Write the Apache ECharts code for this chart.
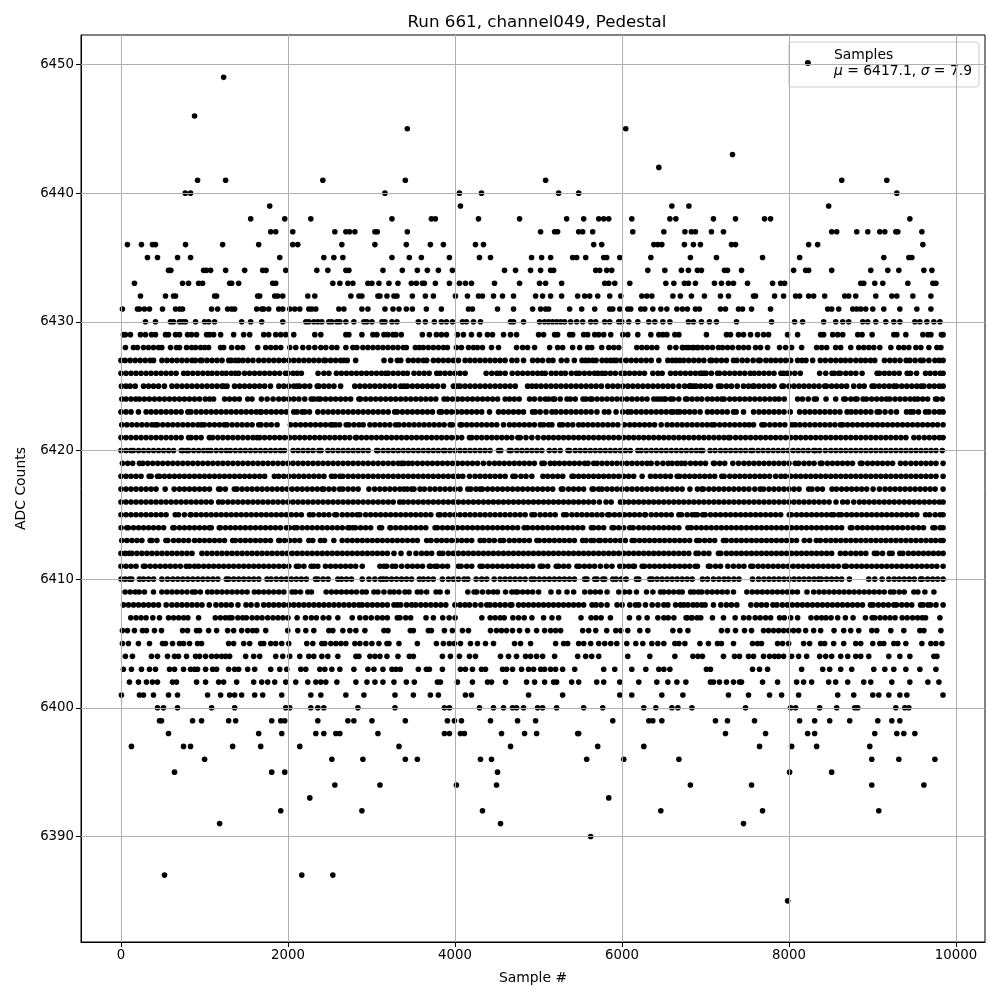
<!DOCTYPE html>
<html><head><meta charset="utf-8">
<style>html,body{margin:0;padding:0;background:#fff}#c{width:1000px;height:1000px}</style>
<script src="https://cdn.jsdelivr.net/npm/echarts@6/dist/echarts.min.js"></script>
</head><body><div id="c"></div>
<script>
const titleText = "Run 661, channel049, Pedestal";
const xName = "Sample #";
const yName = "ADC Counts";
const seriesName = "Samples";
const xTicks = [0,2000,4000,6000,8000,10000];
const yTicks = [6390,6400,6410,6420,6430,6440,6450];

const r6449=[1229];
const r6446=[881];
const r6445=[3429,6045];
const r6443=[7323];
const r6442=[6441];
const r6441=[917,1253,2417,3405,5085,8631,9171];
const r6440=[769,833,3161,4053,4317,5241,5481,9291];
const r6439=[1781,4065,6597,6801,8475];
const r6438=[1553,1961,2273,3245,3717,3765,4281,4773,5337,5541,5721,5781,5841,6117,6573,6645,7095,7359,7707,7779,9447];
const r6437=[1793,1853,2057,2561,2693,2737,2801,3041,3069,3429,5025,5193,5229,5481,5529,5649,6129,6501,6753,6831,6879,7071,7215,8511,8571,8811,8943,9087,9147,9279,9303,9591];
const r6436=[77,245,377,413,773,1217,1649,2057,2117,2645,3041,3417,3705,3861,4245,4341,5661,5757,6381,6429,6477,6747,6855,6939,7311,7359,8235,8343,9603];
const r6435=[317,437,677,833,1901,2429,2549,2657,3245,3453,3597,3933,4293,4425,4917,5037,5145,5409,5457,5565,5781,5817,5973,6345,6819,7131,7683,8127,9135,9435,9471];
const r6434=[569,597,989,1021,1073,1253,1481,1697,1737,1973,2345,2477,2693,2729,3137,3369,3549,3669,3801,3969,4593,4725,4905,5025,5145,5181,5685,5733,5817,5877,6309,6513,6711,6795,6903,6951,7227,7263,7431,8055,8199,8235,8511,8979,9183,9315,9615,9711];
const r6433=[161,737,809,929,977,1301,1325,1409,1817,1853,2537,2621,2717,2777,2957,3005,3089,3209,3317,3477,3537,3609,3633,3765,3933,4053,4125,4197,4473,4773,5013,5085,5277,5793,5841,5913,6093,6525,6621,6747,6795,6879,7107,7191,7275,7335,7503,7803,7899,7947,8859,8895,9027,9123,9423,9723,9759];
const r6432=[233,533,629,653,1121,1145,1637,1661,1841,1877,1937,2237,2321,2753,2849,2885,3077,3101,3185,3269,3305,3489,3645,3741,4005,4149,4281,4329,4461,4569,4701,4965,5049,5145,5277,5469,5553,5613,5709,5853,5985,6237,6297,6357,6609,6699,6831,6987,7179,7275,7575,7599,7827,7935,8079,8127,8235,8295,8427,8667,8715,8799,9039,9231,9291,9483,9699];
const r6431=[17,197,221,281,341,497,653,701,737,1085,1157,1277,1325,1361,1625,1685,1709,1769,1889,1937,2021,2081,2141,2249,2285,2333,2609,2669,2885,2957,3161,3257,3329,3417,3489,3657,3837,4161,4209,4509,4701,4929,5025,5085,5121,5373,5517,5673,5853,5889,5973,6069,6105,6225,6273,6369,6465,6537,6657,6723,6783,6879,6927,7179,7239,7395,7443,7551,7779,8463,8511,8595,8763,8811,8859,8919,9003,9135,9327,9531,9699];
const r6430=[293,413,593,629,701,737,773,893,1001,1049,1121,1445,1553,1685,1937,2213,2249,2309,2357,2405,2489,2525,2585,2621,2693,2789,2909,2945,3005,3125,3161,3245,3305,3561,3645,3753,3837,3897,3969,4089,4137,4221,4305,4665,4701,4821,5013,5073,5121,5169,5217,5265,5313,5385,5457,5529,5625,5685,5793,5853,5961,5997,6081,6189,6321,6393,6489,6573,6795,6855,6951,7047,7131,7371,7791,8067,8163,8415,8559,8643,8715,8883,8943,9039,9159,9255,9327,9507,9567,9651,9735,9807];
const r6429=[29,53,113,233,293,365,413,533,569,653,701,797,845,905,1025,1061,1109,1193,1349,1469,1541,1709,1769,1853,1913,1973,2069,2321,2393,2693,2729,2885,3017,3065,3149,3197,3257,3293,3357,3609,3693,3777,3837,3897,4029,4101,4197,4293,4389,4449,4581,4665,4737,5001,5061,5193,5229,5373,5409,5541,5589,5673,5721,5781,5865,6009,6069,6189,6345,6441,6489,6537,6633,6681,7011,7251,7299,7395,7455,7539,7623,7695,7755,7983,8103,8379,8415,8523,8583,8643,8823,8875,8995,9255,9291,9399,9603,9663,9699,9825,9845];
const r6428=[53,149,197,269,329,389,449,489,593,665,701,785,845,893,953,1001,1049,1193,1229,1325,1397,1457,1637,1733,1793,1853,1913,2021,2093,2177,2249,2321,2393,2453,2525,2585,2693,2777,2825,2897,2957,3017,3077,3137,3197,3257,3317,3381,3417,3525,3573,3621,3681,3741,3801,3861,3909,4017,4077,4161,4221,4269,4329,4437,4521,4737,4809,4869,4953,5133,5229,5289,5409,5493,5589,5637,5757,5841,5901,5961,6177,6237,6297,6357,6417,6573,6645,6729,6801,6861,6909,6723,6771,6843,6903,6963,7023,7083,7155,7203,7263,7323,7395,7455,7515,7599,7659,7743,7887,7959,8031,8151,8331,8391,8451,8559,8619,8739,8835,8895,8955,9015,9087,9219,9315,9375,9435,9519,9579,9675,9771,9819];
const r6427=[0,50,110,170,230,290,350,390,490,550,610,670,730,790,850,890,950,970,1030,1090,1150,1210,1290,1320,1370,1410,1460,1520,1580,1650,1710,1770,1830,1890,1950,2010,2070,2130,2190,2250,2310,2370,2430,2450,2510,2570,2630,2670,2710,2810,3150,3230,3310,3350,3441,3500,3560,3620,3661,3741,3800,3860,3920,3980,4041,4121,4180,4240,4300,4360,4420,4480,4540,4600,4681,4741,4821,4929,4990,5049,5121,5173,5273,5340,5429,5521,5561,5601,5650,5689,5761,5813,5861,5901,5933,5990,6050,6110,6170,6230,6290,6350,6441,6549,6601,6645,6693,6741,6800,6860,6920,6980,7055,7075,7130,7190,7250,7335,7375,7440,7500,7570,7635,7655,7723,7783,7840,7900,7960,8020,8103,8155,8203,8283,8375,8435,8500,8560,8620,8675,8735,8800,8860,8915,8975,9027,9143,9207,9267,9330,9403,9447,9510,9575,9607,9675,9747,9800,9845];
const r6426=[0,60,120,180,240,300,360,420,480,540,600,660,750,800,860,920,980,1040,1090,1150,1210,1260,1320,1370,1410,1480,1540,1600,1660,1720,1780,1840,1900,1970,2000,2060,2110,2160,2360,2430,2490,2580,2640,2700,2760,2820,2880,2940,3000,3060,3120,3170,3200,3260,3320,3380,3429,3509,3570,3630,3690,3781,3821,3880,3940,4000,4060,4121,4373,4440,4501,4541,4601,4685,4750,4810,4870,4930,4989,5041,5081,5153,5210,5270,5321,5393,5453,5489,5550,5610,5670,5713,5761,5801,5861,5920,5989,6033,6090,6150,6210,6269,6369,6430,6481,6581,6640,6700,6760,6820,6880,6935,6955,6983,7007,7070,7143,7167,7230,7290,7350,7410,7470,7535,7583,7640,7700,7760,7820,7903,7935,7975,8007,8070,8135,8367,8440,8515,8543,8595,8615,8680,8740,8800,8875,9055,9083,9143,9200,9260,9320,9415,9455,9527,9635,9690,9750,9810,9845];
const r6425=[5,60,110,170,270,330,390,450,520,610,670,730,790,850,910,970,1030,1090,1150,1210,1230,1270,1360,1420,1480,1540,1600,1660,1720,1790,1890,1950,2010,2070,2110,2140,2200,2260,2350,2370,2430,2490,2550,2630,2800,2860,2920,2980,3040,3100,3160,3220,3280,3350,3389,3429,3490,3550,3610,3670,3730,3790,3861,3981,4029,4061,4120,4180,4240,4300,4360,4420,4480,4540,4600,4660,4721,4869,4921,4973,5030,5090,5150,5210,5270,5330,5390,5450,5510,5570,5630,5690,5753,5829,5890,5950,6010,6070,6130,6190,6250,6310,6370,6430,6490,6550,6610,6681,6750,6813,6861,6941,6807,6827,6890,7000,7060,7155,7187,7250,7310,7380,7455,7515,7567,7583,7640,7700,7760,7820,7915,7935,8000,8060,8120,8180,8240,8300,8360,8427,8447,8510,8570,8630,8690,8775,8843,8900,8995,9023,9080,9140,9200,9255,9287,9350,9410,9470,9530,9583,9615,9680,9740,9800,9845];
const r6424=[10,60,120,177,221,280,340,400,460,520,580,640,700,760,820,880,940,1009,1061,1109,1241,1300,1360,1417,1517,1569,1681,1750,1821,1889,1950,2009,2069,2130,2200,2277,2309,2357,2389,2450,2510,2570,2630,2690,2750,2849,2869,2930,2990,3050,3110,3170,3230,3290,3350,3410,3470,3530,3590,3650,3710,3770,3869,3909,3970,4033,4089,4150,4210,4270,4330,4390,4450,4510,4601,4653,4710,4769,4893,4950,5020,5081,5121,5173,5193,5260,5341,5381,5440,5533,5569,5621,5641,5700,5760,5820,5880,5940,6000,6060,6120,6180,6240,6300,6381,6421,6460,6501,6521,6581,6613,6680,6761,6781,6840,6900,6955,7023,7080,7140,7195,7223,7290,7350,7410,7470,7530,7590,7650,7710,7770,7830,7880,7943,8103,8160,8230,8303,8327,8443,8559,8655,8675,8740,8795,8815,8887,8927,8990,9050,9110,9167,9207,9270,9330,9390,9450,9503,9543,9600,9660,9755,9775,9835];
const r6423=[0,60,120,209,301,360,420,480,540,600,660,720,801,837,900,960,1020,1080,1140,1200,1260,1320,1380,1440,1500,1560,1620,1669,1681,1740,1800,1860,1920,1980,2069,2109,2169,2201,2257,2357,2420,2480,2540,2600,2660,2720,2780,2840,2900,2960,3020,3080,3140,3200,3277,3309,3370,3430,3490,3550,3610,3670,3730,3813,3841,3900,3960,4020,4080,4140,4200,4260,4320,4413,4521,4580,4640,4700,4760,4820,4929,4961,5020,5090,5161,5209,5270,5330,5390,5450,5510,5570,5630,5700,5789,5841,5929,6009,6069,6109,6170,6230,6290,6350,6410,6470,6530,6589,6613,6661,6693,6750,6810,6870,6935,7023,7080,7140,7200,7260,7335,7367,7455,7575,7640,7700,7760,7820,7880,7940,8015,8127,8190,8250,8310,8370,8430,8490,8550,8610,8695,8743,8800,8860,8920,8980,9055,9083,9150,9220,9287,9407,9455,9487,9550,9635,9675,9740,9800,9845];
const r6422=[9,70,130,190,250,310,370,409,437,500,560,620,680,740,800,860,920,961,997,1060,1120,1180,1237,1269,1330,1390,1450,1510,1570,1649,1677,1740,1800,1869,2029,2090,2150,2210,2270,2330,2390,2450,2509,2537,2569,2617,2697,2729,2790,2850,2901,2981,3040,3100,3160,3220,3289,3329,3390,3450,3510,3570,3630,3690,3750,3810,3870,3941,3969,4061,4081,4140,4200,4260,4320,4380,4440,4500,4581,4653,4710,4770,4830,4890,4950,5021,5061,5121,5161,5253,5289,5350,5410,5481,5533,5590,5650,5710,5770,5830,5890,5950,6029,6093,6150,6210,6270,6330,6390,6469,6541,6600,6660,6720,6780,6840,6900,6960,7020,7075,7107,7170,7230,7290,7350,7410,7470,7523,7575,7675,7707,7770,7830,7890,7950,8035,8075,8130,8190,8250,8310,8370,8430,8490,8550,8615,8643,8700,8760,8820,8880,8940,9000,9060,9120,9180,9240,9300,9360,9420,9480,9540,9600,9660,9720,9780,9845];
const r6421=[0,60,120,180,240,300,360,420,480,540,600,660,720,809,841,900,960,1057,1097,1160,1220,1280,1340,1400,1460,1520,1580,1629,1661,1720,1780,1840,1900,1960,2020,2080,2140,2200,2260,2320,2380,2440,2500,2560,2620,2680,2740,2809,2821,2880,2940,3000,3060,3120,3180,3240,3300,3360,3420,3480,3540,3600,3660,3720,3780,3840,3900,3960,4020,4080,4173,4201,4260,4320,4380,4440,4500,4560,4620,4680,4753,4781,4850,4920,4993,5061,5120,5180,5240,5300,5360,5420,5480,5540,5600,5660,5720,5780,5840,5900,5960,6020,6080,6140,6200,6260,6320,6380,6440,6500,6560,6620,6680,6740,6800,6860,6920,6980,7040,7100,7160,7220,7275,7295,7360,7420,7480,7540,7600,7660,7720,7780,7840,7900,7960,8020,8080,8140,8200,8260,8320,8380,8440,8500,8560,8620,8680,8740,8800,8860,8920,8980,9040,9100,9160,9220,9280,9340,9400,9495,9555,9620,9680,9740,9800,9845];
const r6420=[0,60,117,149,210,270,330,390,450,510,570,630,721,741,789,809,870,930,990,1041,1077,1140,1200,1261,1309,1370,1430,1490,1550,1610,1670,1730,1790,1850,1910,1957,2061,2120,2180,2240,2300,2369,2397,2477,2537,2600,2660,2720,2780,2840,2900,2960,3061,3077,3140,3200,3260,3320,3380,3440,3500,3560,3620,3680,3740,3800,3861,3881,3940,4000,4060,4120,4180,4240,4300,4360,4420,4521,4549,4649,4673,4740,4800,4860,4920,4980,5040,5129,5193,5260,5353,5373,5440,5500,5560,5620,5680,5740,5800,5860,5920,5980,6040,6100,6189,6229,6290,6350,6410,6470,6530,6590,6650,6710,6770,6830,6890,6943,6967,7055,7115,7180,7240,7300,7360,7420,7480,7543,7567,7630,7690,7750,7810,7870,7930,7990,8050,8110,8170,8230,8295,8315,8367,8435,8500,8560,8620,8680,8740,8800,8860,8920,8980,9040,9100,9160,9220,9280,9340,9400,9460,9520,9580,9640,9700,9760,9835];
const r6419=[17,80,140,221,261,320,380,440,500,560,620,680,740,800,860,920,980,1040,1100,1160,1220,1280,1340,1400,1460,1520,1580,1640,1700,1760,1820,1880,1940,2000,2060,2120,2180,2240,2300,2360,2420,2480,2540,2600,2660,2720,2780,2840,2900,2960,3020,3080,3140,3200,3260,3320,3361,3389,3441,3489,3550,3610,3670,3730,3790,3850,3910,3970,4030,4090,4150,4210,4270,4340,4409,4473,4530,4590,4650,4710,4770,4830,4890,4950,5041,5069,5141,5193,5250,5310,5370,5430,5490,5553,5593,5661,5701,5760,5820,5880,5940,6000,6060,6120,6180,6240,6300,6349,6421,6490,6553,6601,6660,6709,6755,6820,6880,6940,7000,7095,7107,7170,7230,7327,7395,7460,7520,7580,7640,7700,7760,7820,7880,7940,8000,8075,8115,8180,8240,8300,8375,8395,8460,8520,8580,8640,8700,8760,8855,8875,8940,9000,9060,9120,9180,9240,9335,9395,9460,9520,9580,9640,9700,9760,9845];
const r6418=[0,60,120,180,240,337,361,437,461,520,580,640,700,760,820,880,940,1000,1060,1120,1180,1240,1300,1360,1420,1480,1540,1600,1660,1720,1837,1889,1950,2010,2070,2130,2190,2250,2310,2370,2430,2521,2561,2621,2657,2720,2780,2840,2900,2960,3020,3080,3140,3200,3260,3320,3380,3440,3500,3560,3620,3680,3740,3800,3860,3920,3980,4040,4093,4173,4240,4300,4360,4420,4480,4540,4600,4693,4721,4790,4850,4920,5053,5109,5170,5230,5290,5401,5421,5480,5540,5600,5660,5720,5780,5840,5900,5960,6020,6080,6140,6241,6341,6400,6460,6520,6580,6661,6689,6750,6810,6870,6930,6990,7050,7110,7195,7223,7290,7350,7410,7470,7530,7590,7650,7707,7767,7840,7903,7955,8020,8080,8140,8200,8260,8320,8380,8440,8500,8560,8620,8680,8740,8800,8860,8920,8980,9040,9100,9160,9220,9280,9340,9400,9460,9520,9580,9640,9700,9760,9845];
const r6417=[0,60,120,180,240,300,360,420,529,637,700,760,820,880,940,1000,1060,1169,1189,1250,1357,1389,1450,1510,1570,1630,1690,1750,1810,1870,1930,1990,2050,2110,2170,2230,2290,2350,2409,2429,2490,2550,2617,2657,2720,2780,2840,2969,3037,3100,3160,3220,3280,3340,3389,3429,3481,3509,3581,3633,3700,3760,3820,3880,3940,4000,4060,4153,4189,4250,4301,4329,4390,4450,4510,4570,4630,4690,4750,4810,4870,4930,4990,5050,5110,5170,5273,5293,5360,5420,5480,5540,5641,5661,5721,5761,5820,5880,5940,6000,6060,6120,6180,6240,6300,6360,6420,6480,6540,6600,6660,6720,6813,6903,6955,6975,7040,7100,7160,7220,7280,7340,7400,7460,7520,7590,7655,7695,7760,7820,7880,7940,8000,8060,8120,8235,8275,8340,8400,8515,8567,8630,8690,8750,8810,8870,8930,9007,9083,9150,9210,9270,9330,9390,9450,9510,9570,9630,9690,9750,9845];
const r6416=[0,60,120,180,240,300,360,420,480,540,600,660,720,780,840,900,960,1020,1080,1169,1217,1280,1340,1400,1460,1520,1580,1640,1700,1760,1820,1880,1940,2000,2060,2120,2180,2240,2300,2360,2420,2480,2540,2600,2660,2720,2780,2840,2900,2960,3020,3080,3140,3200,3260,3337,3381,3440,3500,3560,3620,3680,3740,3800,3860,3920,3980,4040,4100,4160,4220,4280,4340,4400,4460,4520,4580,4640,4700,4760,4820,4880,4940,5000,5060,5120,5180,5240,5300,5360,5420,5480,5540,5600,5660,5729,5809,5870,5981,6021,6080,6140,6200,6260,6320,6380,6440,6500,6560,6620,6680,6740,6800,6860,6920,6980,7040,7100,7160,7220,7280,7340,7400,7460,7520,7580,7640,7700,7760,7820,7880,7940,8000,8060,8120,8180,8240,8300,8360,8420,8480,8563,8643,8700,8775,8843,8900,8960,9020,9080,9140,9200,9260,9320,9380,9440,9500,9560,9620,9680,9740,9800,9845];
const r6415=[0,60,120,180,240,300,360,420,480,540,649,689,760,829,841,900,960,1020,1080,1140,1200,1260,1320,1380,1440,1500,1560,1620,1680,1740,1800,1860,1920,1980,2040,2100,2160,2257,2301,2370,2430,2490,2561,2581,2650,2710,2770,2829,2861,2930,2990,3050,3110,3170,3230,3290,3350,3410,3470,3530,3590,3650,3710,3801,3821,3880,3940,4000,4060,4120,4180,4240,4300,4360,4420,4480,4540,4600,4660,4720,4780,4840,4921,4953,5020,5080,5140,5200,5301,5333,5400,5460,5520,5580,5640,5700,5760,5829,5849,5910,5970,6030,6090,6150,6210,6273,6281,6350,6410,6470,6530,6590,6681,6713,6780,6840,6875,6903,6967,6995,7060,7120,7180,7240,7300,7360,7420,7480,7540,7600,7660,7720,7780,7840,7900,8003,8027,8090,8150,8210,8270,8330,8390,8450,8507,8535,8595,8627,8690,8750,8810,8870,8930,8990,9050,9110,9170,9230,9290,9350,9410,9470,9530,9635,9683,9750,9810,9845];
const r6414=[1,69,89,150,210,270,330,390,450,510,621,637,700,760,820,880,940,1000,1057,1081,1177,1189,1250,1310,1370,1430,1490,1550,1610,1670,1730,1790,1850,1910,1981,2017,2077,2109,2170,2230,2290,2350,2410,2470,2530,2590,2650,2717,2737,2777,2809,2870,2930,2990,3097,3121,3221,3229,3290,3350,3410,3470,3530,3590,3650,3761,3789,3850,3910,3970,4030,4090,4150,4210,4270,4330,4390,4450,4510,4570,4630,4690,4750,4829,4869,4930,4990,5050,5110,5170,5230,5290,5350,5410,5470,5530,5633,5661,5720,5780,5881,5901,5960,6020,6093,6133,6200,6260,6320,6380,6440,6500,6560,6620,6680,6789,6829,6890,6950,7010,7070,7130,7190,7250,7310,7370,7430,7490,7550,7610,7670,7730,7790,7850,7910,7970,8030,8090,8150,8210,8270,8330,8390,8450,8510,8570,8630,8735,8755,8820,8880,8940,9000,9060,9120,9180,9240,9300,9360,9423,9487,9550,9610,9723,9747,9810,9845];
const r6413=[9,70,130,190,250,349,369,430,537,561,630,690,750,809,881,940,1000,1060,1120,1180,1240,1337,1369,1430,1490,1550,1610,1670,1730,1790,1889,1901,1960,2020,2080,2140,2249,2297,2389,2437,2549,2649,2710,2770,2830,2890,2950,3010,3070,3130,3190,3250,3310,3370,3430,3493,3549,3661,3713,3780,3840,3900,3960,4020,4080,4140,4200,4301,4349,4410,4470,4541,4581,4650,4710,4770,4830,4890,4981,5009,5070,5130,5190,5250,5310,5370,5430,5529,5569,5629,5661,5721,5741,5800,5860,5920,5980,6040,6121,6149,6210,6270,6330,6390,6450,6510,6570,6630,6690,6750,6810,6895,6927,6990,7050,7110,7215,7247,7310,7370,7430,7490,7550,7610,7670,7730,7790,7850,7910,7970,8030,8090,8183,8247,8327,8375,8440,8500,8560,8620,8680,8740,8800,8860,8920,8980,9040,9100,9160,9220,9280,9340,9400,9460,9520,9580,9640,9700,9755,9815,9845];
const r6412=[0,50,97,129,190,250,310,370,430,490,550,610,670,730,790,850,969,1029,1090,1150,1210,1270,1330,1390,1450,1510,1570,1630,1690,1750,1810,1870,1930,1990,2050,2110,2170,2230,2290,2350,2410,2470,2530,2590,2650,2710,2770,2830,2890,2950,3010,3070,3130,3190,3269,3353,3453,3533,3600,3660,3720,3813,3853,3920,3980,4040,4100,4160,4220,4280,4340,4400,4460,4520,4580,4640,4700,4760,4820,4880,4940,5000,5060,5120,5180,5240,5300,5360,5420,5480,5540,5600,5660,5720,5780,5840,5900,5960,6020,6080,6140,6200,6260,6320,6380,6440,6500,6560,6620,6680,6740,6800,6887,6915,6980,7040,7155,7183,7250,7310,7370,7430,7490,7550,7610,7670,7730,7790,7850,7910,7970,8030,8090,8150,8210,8270,8330,8390,8450,8510,8615,8675,8740,8800,8860,8920,9023,9055,9120,9203,9235,9327,9363,9430,9490,9550,9610,9670,9730,9790,9845];
const r6411=[0,60,120,180,269,289,350,410,470,530,590,650,710,781,821,881,929,990,1050,1110,1170,1230,1290,1350,1410,1470,1530,1590,1650,1710,1770,1830,1890,1950,2010,2101,2129,2190,2277,2309,2357,2449,2510,2570,2630,2690,2750,2810,2889,3101,3149,3181,3249,3289,3361,3430,3490,3550,3610,3693,3709,3761,3789,3850,3910,4041,4073,4140,4200,4301,4329,4390,4450,4510,4570,4630,4690,4750,4810,4870,4930,5021,5049,5110,5213,5241,5301,5361,5461,5489,5550,5610,5670,5741,5813,5880,5973,6021,6080,6133,6149,6241,6269,6330,6390,6450,6510,6570,6630,6690,6750,6810,6875,6903,7035,7055,7120,7180,7267,7335,7400,7460,7543,7567,7630,7690,7750,7810,7870,7930,7990,8050,8110,8170,8230,8290,8350,8410,8470,8530,8590,8663,8687,8750,8810,8870,8930,8990,9050,9110,9170,9230,9290,9350,9410,9470,9530,9590,9650,9710,9770,9845];
const r6410=[1,50,101,129,221,269,330,390,489,557,620,680,740,800,860,920,980,1040,1100,1160,1261,1289,1350,1410,1470,1530,1590,1650,1749,1797,1860,1920,1980,2040,2100,2160,2220,2329,2357,2420,2480,2597,2641,2700,2760,2889,2969,3040,3109,3141,3181,3240,3300,3360,3420,3480,3573,3621,3680,3740,3849,3921,3980,4040,4109,4153,4253,4320,4380,4469,4541,4600,4660,4720,4780,4840,4913,4949,5010,5070,5130,5190,5250,5310,5370,5430,5553,5581,5673,5701,5769,5793,5889,5929,5990,6050,6173,6201,6333,6361,6420,6480,6540,6600,6660,6720,6780,6840,6963,7023,7095,7160,7223,7275,7340,7400,7563,7635,7700,7760,7820,7880,7940,8000,8060,8120,8180,8240,8300,8355,8387,8450,8510,8570,8630,8723,8955,9027,9115,9195,9260,9320,9380,9440,9500,9575,9595,9660,9720,9780,9845];
const r6409=[49,110,170,217,281,389,489,550,610,670,730,790,857,889,950,1037,1089,1150,1210,1270,1330,1390,1450,1510,1597,1649,1710,1770,1830,1890,1950,2049,2089,2150,2237,2281,2457,2520,2580,2640,2700,2760,2820,2889,2937,3029,3077,3149,3221,3269,3329,3401,3449,3549,3593,3660,3773,3821,3909,4153,4229,4261,4330,4400,4461,4509,4605,4681,4721,4749,4810,4870,4930,5001,5149,5241,5341,5421,5553,5620,5680,5740,5821,5961,6030,6090,6173,6293,6370,6461,6501,6560,6620,6681,6721,6821,6861,6915,6955,7020,7080,7140,7200,7260,7335,7495,7560,7620,7680,7740,7800,7860,7920,7980,8040,8100,8215,8295,8360,8420,8480,8540,8600,8660,8720,8780,8840,8900,8960,9020,9080,9140,9215,9255,9320,9380,9495,9543,9627,9735];
const r6408=[29,90,150,210,270,330,390,450,541,609,670,730,790,850,910,970,1057,1137,1200,1260,1320,1401,1497,1557,1629,1709,1770,1830,1890,1950,2010,2070,2130,2190,2250,2310,2370,2430,2490,2550,2610,2670,2730,2790,2849,2889,2950,3010,3070,3130,3190,3269,3309,3350,3420,3481,3529,3590,3650,3710,3770,3830,3890,3999,4061,4120,4173,4241,4310,4381,4421,4480,4540,4600,4661,4681,4761,4820,4880,4940,5000,5060,5120,5180,5240,5300,5360,5420,5480,5540,5641,5689,5750,5821,5941,6001,6093,6161,6201,6281,6361,6430,6501,6549,6641,6701,6741,6789,6850,6900,6955,6995,7095,7183,7250,7310,7375,7543,7610,7670,7730,7807,7855,7920,7980,8040,8100,8160,8220,8280,8340,8400,8460,8520,8580,8640,8700,8760,8820,8880,8975,9007,9070,9130,9190,9255,9287,9350,9410,9470,9575,9607,9663,9695,9760,9845];
const r6407=[117,180,240,300,381,461,569,630,690,750,801,929,1129,1190,1250,1297,1329,1400,1457,1501,1570,1630,1689,1757,1820,1880,1940,2000,2109,2209,2280,2340,2421,2489,2597,2769,2861,2930,2997,3069,3130,3189,3309,3341,3410,3469,3653,3741,3853,3930,4001,4321,4421,4480,4540,4589,4693,4761,4829,4921,5061,5161,5241,5509,5629,5689,5750,5861,6089,6201,6301,6429,6501,6553,6621,6781,6840,6900,6943,6767,6830,7083,7215,7355,7455,7520,7595,7655,7720,7780,7887,7943,8020,8103,8263,8330,8390,8443,8503,8583,8675,8767,8915,8995,9027,9090,9150,9210,9270,9355,9415,9480,9540,9595,9635,9807];
const r6406=[17,77,161,257,305,401,485,737,797,905,941,1049,1145,1277,1349,1445,1517,1577,1625,1733,1997,2117,2213,2309,2489,2537,2657,2741,2813,2921,3149,3197,3465,3501,3681,3717,3873,3969,4089,4161,4425,4497,4557,4617,4689,4773,4869,4977,5073,5145,5205,5265,5529,5601,5685,5817,5925,5985,6069,6213,6309,6609,6693,6789,7191,7263,7359,7467,7551,7695,7755,7815,7875,7935,7995,8055,8115,8199,8295,8379,8539,8655,8739,8835,8991,9051,9219,9375,9567,9615,9819];
const r6405=[17,89,209,341,497,533,617,701,749,821,917,965,1289,1349,1469,1541,1673,1709,1793,1853,1925,2009,2225,2297,2405,2441,2513,2573,2633,2693,2801,2861,2933,3005,3089,3185,3209,3329,3549,3777,3861,3933,3993,4065,4185,4269,4365,4461,4713,4785,4905,5205,5301,5349,5481,5541,5625,5721,5793,5865,5937,6057,6165,6249,6357,6429,6501,6633,6681,6753,6933,7035,7143,7191,7335,7563,7623,7671,7863,7923,7995,8175,8247,8379,8427,8535,8655,8799,8859,9003,9087,9135,9255,9303,9399,9591,9699,9759,9831];
const r6404=[53,137,365,437,557,641,689,785,893,941,1013,1085,1145,1205,1253,1301,1493,1589,1661,1853,1937,2021,2141,2249,2309,2405,2477,2597,2813,2849,2981,3041,3101,3185,3317,3453,3501,3849,3945,4053,4173,4245,4545,4641,4737,4845,4905,4977,5049,5193,5469,5565,5637,5721,6069,6333,6633,6849,6909,6963,7215,7347,7407,7515,7575,7695,7767,7827,7875,7935,8031,8115,8211,8367,8439,8511,8619,8703,8799,8859,8955,9195,9327,9447,9735,9771];
const r6403=[29,125,245,341,413,581,641,749,833,881,917,1013,1097,1145,1289,1361,1409,1517,1601,1793,1901,1985,2153,2213,2381,2441,2525,2621,2789,2957,3029,3137,3245,3293,3345,3561,3657,3693,3849,4065,4125,4209,4317,4365,4569,4617,4689,4797,4881,4941,5025,5073,5145,5205,5289,5433,5781,5913,6117,6285,6441,6501,6573,7011,7059,7563,7647,7743,8151,8403,8487,8619,8751,9015,9147,9255,9399,9567,9759];
const r6402=[101,209,305,377,437,617,665,905,1013,1169,1229,1385,1589,1685,1757,1841,1973,2093,2237,2333,2393,2453,2585,2813,2945,3041,3137,3269,3417,3513,3789,3825,4029,4209,4389,4437,4605,4857,4953,5073,5181,5217,5397,5481,5697,5781,5973,6201,6417,6549,6657,6765,7059,7095,7167,7251,7335,7407,7431,7683,7863,8091,8175,8271,8475,8559,8703,8895,8979,9231,9447,9663,9795];
const r6401=[5,221,269,389,569,677,1037,1193,1301,1361,1445,1601,1697,1925,2273,2393,2693,2909,3281,3501,3705,3801,4125,4197,4881,5289,5973,6117,6477,6729,7275,7515,7767,7911,8115,8583,8775,9003,9075,9195,9327,9411,9844];
const r6400=[437,509,677,1085,1361,1973,2021,2273,2357,2429,2837,3281,3873,3933,4293,4461,4581,4689,4737,4821,4989,5049,5217,5541,5769,6261,6405,6597,6669,6837,7479,8019,8079,8367,8571,8787,8823,9279,9387,9435];
const r6399=[461,485,857,965,1289,1373,1805,1913,1961,2357,2717,2789,3005,3405,3909,3993,4077,4425,4749,4965,5889,6321,6369,6477,7119,7263,7587,8127,8307,8487,8727,9063,9231,9327];
const r6398=[569,1649,1925,2333,2429,2573,2621,3077,3873,3933,4065,4113,4557,4833,4977,5469,5481,7239,7719,8223,8307,9027,9291,9375,9507];
const r6397=[125,749,833,1337,1673,2141,3329,4665,5709,6261,7647,8031,8331,8967];
const r6396=[1001,2525,2897,3405,3549,4305,4437,5577,6021,6681,8991,9315,9747];
const r6395=[641,1805,1961,4509,8007,8511];
const r6394=[2561,3101,4017,4497,6819,7551,8991,9615];
const r6393=[2261,5841];
const r6392=[1913,2885,4329,6465,7683,9075];
const r6391=[1181,4545,7455];
const r6390=[5625];
const r6387=[521,2165,2537];
const r6385=[7983];

const rows = [[6449,r6449],[6446,r6446],[6445,r6445],[6443,r6443],[6442,r6442],[6441,r6441],[6440,r6440],[6439,r6439],[6438,r6438],[6437,r6437],[6436,r6436],[6435,r6435],[6434,r6434],[6433,r6433],[6432,r6432],[6431,r6431],[6430,r6430],[6429,r6429],[6428,r6428],[6427,r6427],[6426,r6426],[6425,r6425],[6424,r6424],[6423,r6423],[6422,r6422],[6421,r6421],[6420,r6420],[6419,r6419],[6418,r6418],[6417,r6417],[6416,r6416],[6415,r6415],[6414,r6414],[6413,r6413],[6412,r6412],[6411,r6411],[6410,r6410],[6409,r6409],[6408,r6408],[6407,r6407],[6406,r6406],[6405,r6405],[6404,r6404],[6403,r6403],[6402,r6402],[6401,r6401],[6400,r6400],[6399,r6399],[6398,r6398],[6397,r6397],[6396,r6396],[6395,r6395],[6394,r6394],[6393,r6393],[6392,r6392],[6391,r6391],[6390,r6390],[6387,r6387],[6385,r6385]];
const points = [];
rows.forEach(function(row){ row[1].forEach(function(s){ points.push([s,row[0]]); }); });

const FONT = "DejaVu Sans";
const chart = echarts.init(document.getElementById('c'), null, {renderer:'canvas'});
function axisCommon(ticks){
  return {
    axisLine:{show:true,onZero:false,lineStyle:{color:'#000',width:1}},
    axisTick:{show:true,length:5,lineStyle:{color:'#000',width:1},customValues:ticks},
    axisLabel:{color:'#000',fontFamily:FONT,fontSize:13.3,customValues:ticks,margin:7,
      showMinLabel:true,showMaxLabel:true,hideOverlap:false,
      formatter:function(v){return String(v);}},
    splitLine:{show:false},
    nameTextStyle:{color:'#000',fontFamily:FONT,fontSize:13.9},
    nameLocation:'middle'
  };
}
chart.setOption({
  animation:false,
  backgroundColor:'#fff',
  title:{text:titleText,top:9,left:532,textAlign:'center',
    textStyle:{color:'#000',fontFamily:FONT,fontSize:16.7,fontWeight:'normal'}},
  grid:{left:81,right:15,top:35,bottom:58,show:true,borderColor:'#000',borderWidth:1,backgroundColor:'#fff'},
  legend:{
    show:true,data:[seriesName],right:21,top:42,orient:'horizontal',
    backgroundColor:'rgba(255,255,255,0.8)',borderColor:'#ccc',borderWidth:1,borderRadius:3,
    padding:[5,7,8,16],itemWidth:6,itemHeight:6,itemGap:0,
    icon:'circle',
    textStyle:{color:'#000',fontFamily:FONT,fontSize:13.9,padding:[0,0,0,18],lineHeight:16,
      rich:{i:{fontStyle:'italic',fontFamily:FONT,fontSize:13.9,color:'#000'},
            t:{fontFamily:FONT,fontSize:13.9,color:'#000'}}},
    formatter:function(){return '{t|Samples}\n{i|μ}{t| = 6417.1, }{i|σ}{t| = 7.9}';}
  },
  xAxis:Object.assign(axisCommon(xTicks),{type:'value',min:-479,max:10347,name:xName,nameGap:29}),
  yAxis:Object.assign(axisCommon(yTicks),{type:'value',min:6381.8,max:6452.29,name:yName,nameGap:53,nameRotate:90}),
  series:[
    {type:'line',name:'gx',silent:true,symbol:'none',data:[],
     markLine:{silent:true,symbol:'none',label:{show:false},animation:false,
       lineStyle:{color:'#b0b0b0',width:1,type:'solid'},
       data:xTicks.map(function(v){return {xAxis:v};}).concat(yTicks.map(function(v){return {yAxis:v};}))}},
    {type:'scatter',name:seriesName,data:points,symbol:'circle',symbolSize:5.6,
     large:false,itemStyle:{color:'#000',opacity:1},z:3}
  ]
});
</script></body></html>
